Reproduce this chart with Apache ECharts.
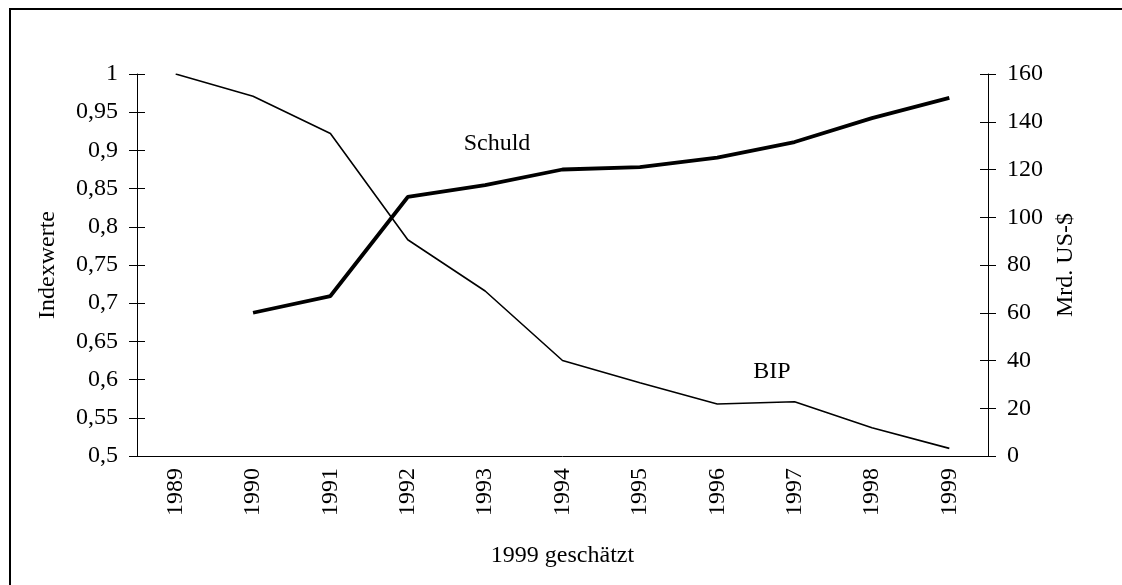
<!DOCTYPE html>
<html>
<head>
<meta charset="utf-8">
<script src="https://cdn.jsdelivr.net/npm/echarts@6/dist/echarts.min.js"></script>
<style>
html,body{margin:0;padding:0;background:#fff;}
#chart{width:1122px;height:585px;}
</style>
</head>
<body>
<div id="chart"></div>
<script>
const years = ['1989','1990','1991','1992','1993','1994','1995','1996','1997','1998','1999'];
const bip = [1.0, 0.971, 0.922, 0.783, 0.716, 0.625, 0.596, 0.568, 0.571, 0.537, 0.510];
const schuld = [null, 60, 67, 108.5, 113.5, 120, 121, 125, 131.5, 141.5, 150];
const xAxisTitle = '1999 geschätzt';
const leftTitle = 'Indexwerte';
const rightTitle = 'Mrd. US-$';

const FONT = "'Liberation Serif', 'Times New Roman', serif";
const FS = 24;

const chart = echarts.init(document.getElementById('chart'), null, {renderer: 'canvas'});
const lineStyle = {color: '#000', width: 1};
const fmtLeft = v => String(+v.toFixed(2)).replace('.', ',');

chart.setOption({
  backgroundColor: '#fff',
  animation: false,
  grid: {left: 137, right: 134, top: 74, bottom: 129},
  xAxis: [
    {
      type: 'category', data: years, position: 'bottom', boundaryGap: true,
      axisLine: {lineStyle}, axisTick: {length: 8, lineStyle},
      axisLabel: {rotate: 90, margin: 12, color: '#000', fontFamily: FONT, fontSize: FS, interval: 0},
      name: xAxisTitle, nameLocation: 'middle', nameGap: 88,
      nameTextStyle: {color: '#000', fontFamily: FONT, fontSize: FS},
      splitLine: {show: false}
    },
    {
      type: 'category', data: years, position: 'bottom', boundaryGap: true,
      axisLine: {show: false}, axisTick: {inside: true, length: 8, lineStyle},
      axisLabel: {show: false}, splitLine: {show: false}
    }
  ],
  yAxis: [
    {
      type: 'value', position: 'left', min: 0.5, max: 1, interval: 0.05,
      axisLine: {show: true, lineStyle}, axisTick: {show: true, length: 8, lineStyle},
      axisLabel: {formatter: fmtLeft, margin: 19, color: '#000', fontFamily: FONT, fontSize: FS},
      splitLine: {show: false},
      name: leftTitle, nameLocation: 'middle', nameGap: 77, nameRotate: 90,
      nameTextStyle: {color: '#000', fontFamily: FONT, fontSize: FS}
    },
    {
      type: 'value', position: 'right', min: 0, max: 160, interval: 20,
      axisLine: {show: true, lineStyle}, axisTick: {show: true, length: 8, lineStyle},
      axisLabel: {margin: 19, color: '#000', fontFamily: FONT, fontSize: FS},
      splitLine: {show: false},
      name: rightTitle, nameLocation: 'middle', nameGap: 60, nameRotate: 90,
      nameTextStyle: {color: '#000', fontFamily: FONT, fontSize: FS}
    },
    {
      type: 'value', position: 'left', min: 0.5, max: 1, interval: 0.05,
      axisLine: {show: false}, axisTick: {show: true, inside: true, length: 8, lineStyle},
      axisLabel: {show: false}, splitLine: {show: false}
    },
    {
      type: 'value', position: 'right', min: 0, max: 160, interval: 20,
      axisLine: {show: false}, axisTick: {show: true, inside: true, length: 8, lineStyle},
      axisLabel: {show: false}, splitLine: {show: false}
    }
  ],
  series: [
    {
      name: 'BIP', type: 'line', data: bip, xAxisIndex: 0, yAxisIndex: 0,
      showSymbol: false, symbol: 'none', lineStyle: {color: '#000', width: 1.6}
    },
    {
      name: 'Schuld', type: 'line', data: schuld, xAxisIndex: 0, yAxisIndex: 1,
      showSymbol: false, symbol: 'none', lineStyle: {color: '#000', width: 3.8}
    }
  ],
  graphic: [
    {type: 'rect', shape: {x: 10, y: 9, width: 1300, height: 800}, style: {fill: null, stroke: '#000', lineWidth: 2}, silent: true},
    {type: 'text', x: 497, y: 144, style: {text: 'Schuld', fill: '#000', font: FS + 'px ' + FONT, align: 'center', verticalAlign: 'middle'}},
    {type: 'text', x: 772, y: 372, style: {text: 'BIP', fill: '#000', font: FS + 'px ' + FONT, align: 'center', verticalAlign: 'middle'}}
  ]
});
</script>
</body>
</html>
